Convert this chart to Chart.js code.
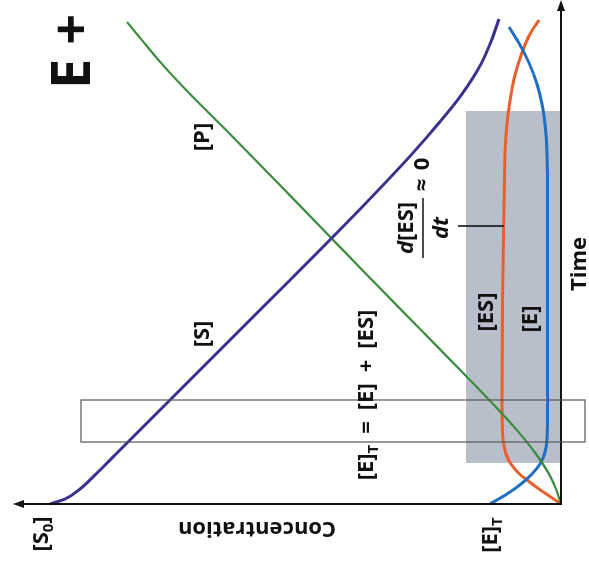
<!DOCTYPE html>
<html>
<head>
<meta charset="utf-8">
<script src="https://cdn.jsdelivr.net/npm/chart.js@4.4.0/dist/chart.umd.min.js"></script>
<style>
html,body{margin:0;padding:0;background:#fff;overflow:hidden;width:589px;height:571px;}
#wrap{position:absolute;left:9px;top:-9px;width:571px;height:589px;transform:rotate(-90deg);transform-origin:50% 50%;}
</style>
</head>
<body>
<div id="wrap"><canvas id="c" width="571" height="589"></canvas></div>
<script>
// ---- data (time, concentration) ----
const timeS = [0, 0.1, 0.3, 0.6, 1.0, 2.0, 3.0, 4.0, 5.0, 6.0, 7.0, 7.6, 8.2, 8.8, 9.3, 9.7];
const concS = [10.22, 9.92, 9.62, 9.3, 8.9, 7.9, 6.9, 5.9, 4.9, 3.92, 2.98, 2.46, 1.98, 1.6, 1.38, 1.24];

const timeP = [0, 0.3, 0.6, 1.0, 1.5, 2.0, 2.5, 3.5, 4.5, 5.5, 6.5, 7.5, 8.2, 8.8, 9.3, 9.64];
const concP = [0, 0.1, 0.24, 0.5, 0.9, 1.36, 1.84, 2.82, 3.8, 4.77, 5.74, 6.72, 7.42, 7.98, 8.40, 8.68];

const timeE = [0, 0.2, 0.4, 0.6, 0.8, 1.0, 1.3, 2, 4, 6, 7, 7.5, 8, 8.4, 8.8, 9.2, 9.54];
const concE = [1.42, 1.08, 0.8, 0.58, 0.42, 0.33, 0.28, 0.27, 0.27, 0.27, 0.28, 0.31, 0.38, 0.48, 0.63, 0.83, 1.04];

const timeES = [0, 0.15, 0.3, 0.45, 0.6, 0.8, 1.0, 1.3, 2, 4, 6, 7, 7.5, 8, 8.5, 9, 9.4, 9.68];
const concES = [0, 0.22, 0.44, 0.64, 0.83, 1.0, 1.1, 1.16, 1.18, 1.17, 1.14, 1.12, 1.09, 1.03, 0.94, 0.79, 0.62, 0.44];

const seriesNames = ['[S]', '[P]', '[E]', '[ES]'];
const seriesColors = ['#3b3290', '#3a8c3c', '#1f6fc4', '#e8602c'];

const steadyBand = {t0: 0.82, t1: 7.86, c0: 0, c1: 1.9};
const preBox = {t0: 1.24, t1: 2.08, c0: -0.48, c1: 9.6};
const S0 = 10.22, ET = 1.42;

function pts(t, c){ return t.map((v,i)=>({x:v, y:c[i]})); }

const FONT = '"Open Sans", "DejaVu Sans", sans-serif';

function drawRich(ctx, segs, x, y, size, align){
  const widths = segs.map(s=>{
    const fs = s.sub ? size*0.68 : size;
    ctx.font = (s.it?'italic ':'') + 'bold ' + fs + 'px ' + FONT;
    return ctx.measureText(s.t).width;
  });
  const total = widths.reduce((a,b)=>a+b,0);
  let cx = align==='left' ? x : x - total/2;
  ctx.textBaseline = 'middle';
  ctx.textAlign = 'left';
  segs.forEach((s,i)=>{
    const fs = s.sub ? size*0.68 : size;
    ctx.font = (s.it?'italic ':'') + 'bold ' + fs + 'px ' + FONT;
    ctx.fillText(s.t, cx, s.sub ? y + size*0.32 : y);
    cx += widths[i];
  });
}

const deco = {
  id: 'deco',
  beforeDatasetsDraw(chart){
    const ctx = chart.ctx, xs = chart.scales.x, ys = chart.scales.y;
    ctx.save();
    ctx.fillStyle = '#b8bfcb';
    const x0 = xs.getPixelForValue(steadyBand.t0), x1 = xs.getPixelForValue(steadyBand.t1);
    const y0 = ys.getPixelForValue(steadyBand.c0), y1 = ys.getPixelForValue(steadyBand.c1);
    ctx.fillRect(x0, y1, x1-x0, y0-y1);
    ctx.restore();
  },
  afterDatasetsDraw(chart){
    const ctx = chart.ctx, xs = chart.scales.x, ys = chart.scales.y;
    const X = v=>xs.getPixelForValue(v), Y = v=>ys.getPixelForValue(v);
    ctx.save();
    // axes
    ctx.strokeStyle = '#111'; ctx.fillStyle = '#111'; ctx.lineWidth = 2;
    const ox = X(0), oy = Y(0);
    const xEnd = X(10.08), yEnd = Y(10.96);
    ctx.beginPath(); ctx.moveTo(ox, oy); ctx.lineTo(xEnd-8, oy); ctx.stroke();
    ctx.beginPath(); ctx.moveTo(xEnd, oy); ctx.lineTo(xEnd-11, oy-4); ctx.lineTo(xEnd-11, oy+4); ctx.closePath(); ctx.fill();
    ctx.beginPath(); ctx.moveTo(ox, oy+1); ctx.lineTo(ox, yEnd+8); ctx.stroke();
    ctx.beginPath(); ctx.moveTo(ox, yEnd); ctx.lineTo(ox-4, yEnd+11); ctx.lineTo(ox+4, yEnd+11); ctx.closePath(); ctx.fill();
    // pre-steady-state outline box
    ctx.strokeStyle = '#555'; ctx.lineWidth = 1.2;
    ctx.strokeRect(X(preBox.t0), Y(preBox.c1), X(preBox.t1)-X(preBox.t0), Y(preBox.c0)-Y(preBox.c1));
    // pointer line
    ctx.strokeStyle = '#111'; ctx.lineWidth = 1.6;
    ctx.beginPath(); ctx.moveTo(X(5.56), Y(2.06)); ctx.lineTo(X(5.56), Y(1.14)); ctx.stroke();
    // labels
    ctx.fillStyle = '#111';
    const L = 22;
    drawRich(ctx, [{t:seriesNames[0]}], X(3.40), Y(7.16), L);
    drawRich(ctx, [{t:seriesNames[1]}], X(7.34), Y(7.16), L);
    drawRich(ctx, [{t:seriesNames[3]}], X(3.84), Y(1.48), L);
    drawRich(ctx, [{t:seriesNames[2]}], X(3.70), Y(0.60), L);
    drawRich(ctx, [{t:'[E]'},{t:'T',sub:true},{t:'\u2002=\u2002[E]\u2002+\u2002[ES]'}], X(2.18), Y(3.88), L);
    // d[ES]/dt ≈ 0
    const bx = X(5.52), by = Y(2.76);
    ctx.lineWidth = 1.4;
    ctx.beginPath(); ctx.moveTo(bx-30, by); ctx.lineTo(bx+30, by); ctx.stroke();
    drawRich(ctx, [{t:'d',it:true},{t:'[ES]'}], bx, Y(3.08), L);
    drawRich(ctx, [{t:'dt',it:true}], bx, Y(2.38), L);
    drawRich(ctx, [{t:'≈'}], X(6.38), by, L);
    drawRich(ctx, [{t:'0'}], X(6.80), by, L);
    // axis labels
    drawRich(ctx, [{t:'Time'}], X(4.80), Y(-0.38), 22);
    drawRich(ctx, [{t:'[S'},{t:'0',sub:true},{t:']'}], X(-0.60), Y(S0+0.16), L);
    drawRich(ctx, [{t:'[E]'},{t:'T',sub:true}], X(-0.62), Y(ET-0.02), L);
    ctx.save();
    ctx.translate(X(-0.48), Y(6.08));
    ctx.rotate(-Math.PI/2);
    drawRich(ctx, [{t:'Concentration'}], 0, 0, 22);
    ctx.restore();
    // title (cut off at edge)
    drawRich(ctx, [{t:'E + S'}], 482, 75, 54, 'left');
    ctx.restore();
  }
};

new Chart(document.getElementById('c'), {
  type: 'line',
  data: {
    datasets: [
      {label: seriesNames[0], data: pts(timeS, concS), borderColor: seriesColors[0], borderWidth: 3},
      {label: seriesNames[1], data: pts(timeP, concP), borderColor: seriesColors[1], borderWidth: 2.2},
      {label: seriesNames[2], data: pts(timeE, concE), borderColor: seriesColors[2], borderWidth: 3},
      {label: seriesNames[3], data: pts(timeES, concES), borderColor: seriesColors[3], borderWidth: 3}
    ].map(d=>Object.assign(d, {pointRadius: 0, fill: false, cubicInterpolationMode: 'monotone', clip: false}))
  },
  options: {
    responsive: false,
    animation: false,
    events: [],
    layout: {padding: {left: 67, right: 0, top: 11, bottom: 28}},
    plugins: {legend: {display: false}, tooltip: {enabled: false}},
    scales: {
      x: {type: 'linear', min: 0, max: 10.08, display: false},
      y: {type: 'linear', min: 0, max: 11, display: false}
    }
  },
  plugins: [deco]
});
</script>
</body>
</html>
